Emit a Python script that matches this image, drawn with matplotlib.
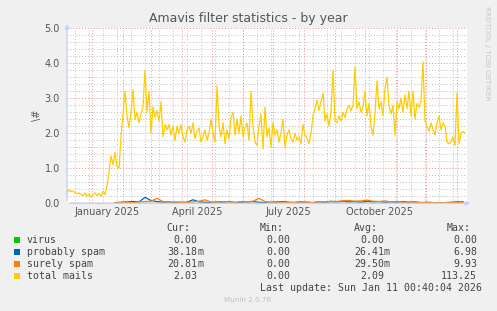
import numpy as np
import pandas as pd
import matplotlib.pyplot as plt
from matplotlib.patches import Rectangle

W, H = 497, 311

# time range of the year graph
start = np.datetime64('2024-12-07')
end = np.datetime64('2026-01-11')

# total mails, one value every 2 days from start
total_mails = [
    0.30, 0.38, 0.33, 0.35, 0.30, 0.28, 0.30, 0.25, 0.22, 0.30,
    0.20, 0.27, 0.18, 0.25, 0.30, 0.22, 0.28, 0.20, 0.35, 0.25,
    0.50, 0.90, 1.35, 1.10, 1.45, 1.05, 1.00, 1.90, 2.55, 3.20,
    2.50, 2.15, 2.60, 3.25, 2.40, 2.60, 2.30, 2.55, 2.75, 3.80,
    2.60, 3.20, 2.00, 2.75, 2.45, 2.65, 2.35, 2.90, 1.90, 2.25,
    2.10, 2.25, 1.95, 2.20, 1.80, 2.20, 2.00, 2.25, 1.90, 1.75,
    2.10, 2.20, 2.00, 2.30, 1.85, 2.05, 2.15, 1.75, 1.90, 2.10,
    1.80, 2.00, 2.40, 2.00, 1.75, 3.35, 2.20, 1.90, 2.30, 1.70,
    2.10, 1.85, 2.45, 2.60, 1.95, 2.40, 2.00, 2.50, 1.90, 2.15,
    2.30, 1.80, 3.20, 2.20, 1.75, 1.65, 2.20, 2.55, 1.55, 2.75,
    1.90, 2.15, 1.60, 2.30, 1.95, 2.10, 1.75, 2.00, 2.40, 1.60,
    1.95, 2.10, 1.85, 1.75, 2.00, 1.80, 1.90, 1.70, 2.25, 1.95,
    1.85, 1.70, 2.00, 2.50, 2.70, 2.95, 2.65, 2.90, 3.15, 2.35,
    2.55, 2.20, 2.60, 3.80, 2.35, 2.30, 2.50, 2.35, 2.60, 2.45,
    2.70, 2.80, 2.65, 2.80, 3.90, 2.70, 2.90, 2.60, 2.75, 3.20,
    2.50, 2.85, 2.20, 1.95, 2.60, 3.50, 2.70, 2.90, 2.50, 3.30,
    3.60, 2.80, 2.55, 2.80, 1.95, 2.90, 2.70, 3.00, 2.60, 3.10,
    2.70, 3.20, 2.50, 3.20, 2.40, 2.85, 2.75, 2.90, 4.05, 2.35,
    2.20, 2.05, 2.30, 2.10, 1.95, 2.30, 2.50, 2.10, 2.30, 2.20,
    1.75, 1.70, 1.75, 1.90, 1.65, 3.15, 1.70, 2.00, 2.05, 2.00,
]

# spam series, one value every 6 days from 2025-01-24
spam_start = np.datetime64('2025-01-24')
probably_spam = [
    0.02, 0.03, 0.04, 0.05, 0.04, 0.17, 0.08, 0.05, 0.03, 0.04,
    0.02, 0.03, 0.03, 0.10, 0.04, 0.03, 0.02, 0.04, 0.03, 0.05,
    0.02, 0.03, 0.04, 0.05, 0.03, 0.02, 0.03, 0.04, 0.05, 0.03,
    0.02, 0.04, 0.03, 0.02, 0.04, 0.03, 0.05, 0.04, 0.06, 0.04,
    0.05, 0.03, 0.06, 0.04, 0.05, 0.03, 0.04, 0.03, 0.05, 0.03,
    0.04, 0.02, 0.03, 0.02, 0.01, 0.02, 0.03, 0.04, 0.04,
]
surely_spam = [
    0.01, 0.02, 0.03, 0.02, 0.04, 0.05, 0.06, 0.14, 0.05, 0.03,
    0.04, 0.03, 0.02, 0.04, 0.06, 0.10, 0.04, 0.03, 0.05, 0.04,
    0.03, 0.05, 0.04, 0.06, 0.14, 0.05, 0.03, 0.04, 0.03, 0.02,
    0.03, 0.04, 0.03, 0.02, 0.05, 0.04, 0.06, 0.05, 0.07, 0.08,
    0.06, 0.07, 0.09, 0.06, 0.05, 0.07, 0.04, 0.05, 0.03, 0.04,
    0.03, 0.02, 0.02, 0.02, 0.01, 0.02, 0.02, 0.02, 0.02,
]
virus = [0.0] * len(surely_spam)

total_dates = start + np.arange(len(total_mails)) * 2
spam_dates = spam_start + np.arange(len(surely_spam)) * 6

# legend table
names = ['virus', 'probably spam', 'surely spam', 'total mails']
colors = ['#00CC00', '#0066B3', '#FF8000', '#FFCC00']
cur = ['0.00', '38.18m', '20.81m', '2.03']
mins = ['0.00', '0.00', '0.00', '0.00']
avgs = ['0.00', '26.41m', '29.50m', '2.09']
maxs = ['0.00', '6.98', '9.93', '113.25']

x_labels = ['January 2025', 'April 2025', 'July 2025', 'October 2025']
x_label_dates = np.array(['2025-01-16', '2025-04-16', '2025-07-16', '2025-10-16'], dtype='datetime64[D]')


def fx(px):
    return px / W


def fy(py):
    return 1 - py / H


fig = plt.figure(figsize=(W / 100, H / 100), dpi=100, facecolor='#F0F0F0')
ax = fig.add_axes([fx(67), fy(203.3), 400 / W, 175 / H])
ax.set_facecolor('white')
ax.set_xlim(start, end)
ax.set_ylim(0, 5)
for s in ax.spines.values():
    s.set_visible(False)

dots = (0, (1, 2))
# grid
for y in np.arange(0.2, 5.01, 0.2):
    if abs(y - round(y)) > 1e-6:
        ax.axhline(y, color='#BDBDBD', lw=0.7, ls=dots, zorder=1)
for y in range(1, 6):
    ax.axhline(y, color='#E89090', lw=0.7, ls=dots, zorder=1)
for d in np.datetime64('2024-12-15') + np.arange(0, 400, 14):
    ax.axvline(d, color='#BDBDBD', lw=0.7, ls=dots, zorder=1)
for d in pd.date_range('2025-01-01', '2026-01-01', freq='MS'):
    ax.axvline(d, color='#E89090', lw=0.7, ls=dots, zorder=1)

ax.axhline(0, color='#F0B0A0', lw=1, zorder=2)

ax.plot(spam_dates, virus, color=colors[0], lw=0.9, zorder=3)
ax.plot(spam_dates, probably_spam, color=colors[1], lw=0.9, zorder=3)
ax.plot(spam_dates, surely_spam, color=colors[2], lw=0.9, zorder=3)
ax.plot(total_dates, total_mails, color=colors[3], lw=0.9, zorder=4)

# axis arrows
arrow_col = '#C8CFF5'
ax.annotate('', xy=(0, 1.04), xytext=(0, 0), xycoords='axes fraction',
            arrowprops=dict(arrowstyle='-|>', color=arrow_col, lw=1, mutation_scale=6),
            annotation_clip=False)
ax.annotate('', xy=(1.015, 0), xytext=(0, 0), xycoords='axes fraction',
            arrowprops=dict(arrowstyle='-|>', color=arrow_col, lw=1, mutation_scale=6),
            annotation_clip=False)

ax.set_yticks(range(6))
ax.set_yticklabels(['%.1f' % v for v in range(6)])
ax.set_xticks(x_label_dates)
ax.set_xticklabels(x_labels)
ax.tick_params(axis='y', length=0, pad=5, labelsize=7, labelcolor='#555555')
ax.tick_params(axis='x', length=0, pad=3, labelsize=7, labelcolor='#555555')

# titles and side texts
fig.text(fx(248), fy(18.5), 'Amavis filter statistics - by year', ha='center', va='center',
         fontsize=9, color='#555555')
fig.text(fx(487), fy(6), 'RRDTOOL / TOBI OETIKER', rotation=270, ha='center', va='top',
         fontsize=5.3, color='#C8C8C8')
fig.text(fx(37), fy(115), '\\#', rotation=90, ha='center', va='center', fontsize=7, color='#555555')

# legend
mono = 'DejaVu Sans Mono'
fs = 7.1
tc = '#444444'
for txt, x in zip(['Cur:', 'Min:', 'Avg:', 'Max:'], [166.7, 260, 354, 446.7]):
    fig.text(fx(x), fy(228), txt, ha='left', va='center', family=mono, fontsize=fs, color=tc)


def value_text(x_right, y, s):
    if s.endswith('m'):
        fig.text(fx(x_right), fy(y), s[:-1], ha='right', va='center', family=mono, fontsize=fs, color=tc)
        fig.text(fx(x_right), fy(y), 'm', ha='left', va='center', family=mono, fontsize=fs, color=tc)
    else:
        fig.text(fx(x_right), fy(y), s, ha='right', va='center', family=mono, fontsize=fs, color=tc)


for i, name in enumerate(names):
    y = 240 + 12 * i
    fig.add_artist(Rectangle((fx(14), fy(y + 2.8)), 5.5 / W, 5.5 / H, transform=fig.transFigure,
                             facecolor=colors[i], edgecolor='none'))
    fig.text(fx(26.7), fy(y), name, ha='left', va='center', family=mono, fontsize=fs, color=tc)
    value_text(197, y, cur[i])
    value_text(290, y, mins[i])
    value_text(384, y, avgs[i])
    value_text(477, y, maxs[i])

fig.text(fx(482.5), fy(288), 'Last update: Sun Jan 11 00:40:04 2026', ha='right', va='center',
         family=mono, fontsize=fs, color=tc)
fig.text(fx(248), fy(300.5), 'Munin 2.0.76', ha='center', va='center', fontsize=5.2, color='#C0C0C0')

fig.savefig('out.png', dpi=100, facecolor=fig.get_facecolor())
